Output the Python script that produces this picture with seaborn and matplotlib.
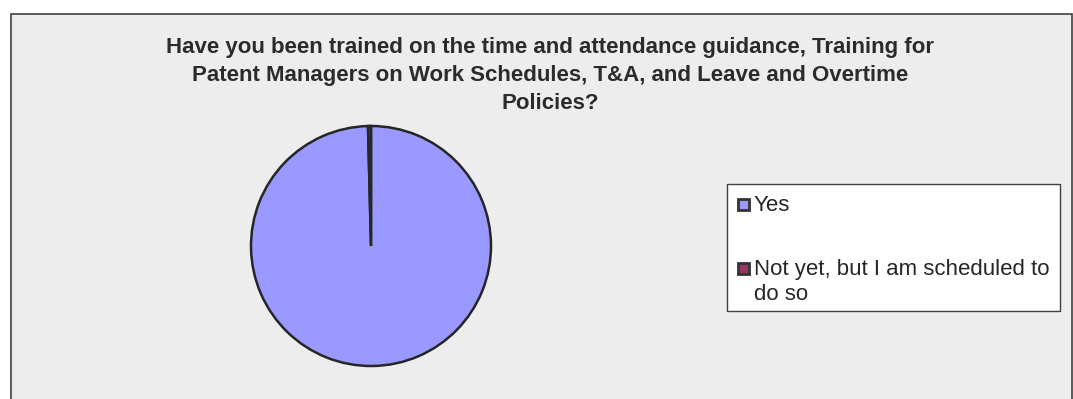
import matplotlib
matplotlib.use("Agg")
import matplotlib.pyplot as plt
from matplotlib.patches import Rectangle
import seaborn as sns

# Survey responses (share of respondents, %)
categories = ["Yes", "Not yet, but I am scheduled to\ndo so"]
values = [99.6, 0.4]
colors = ["#9999FF", "#993366"]
title_lines = ["Have you been trained on the time and attendance guidance, Training for",
               "Patent Managers on Work Schedules, T&A, and Leave and Overtime",
               "Policies?"]

sns.set_theme(style="white")
plt.rcParams["font.family"] = ["Liberation Sans", "DejaVu Sans"]

W, H = 1073, 399
fig = plt.figure(figsize=(W / 100, H / 100), dpi=100, facecolor="white")


def fx(px):
    return px / W


def fy(py):
    return 1 - py / H


# chart area panel
fig.patches.append(Rectangle((fx(11), fy(420)), fx(1072) - fx(11), fy(14) - fy(420),
                             transform=fig.transFigure, facecolor="#EDEDED",
                             edgecolor="#404040", linewidth=1.2, zorder=-2))

for i, line in enumerate(title_lines):
    fig.text(fx(550), fy(53 + 28 * i), line, ha="center", va="baseline",
             fontsize=16, fontweight="bold", color="#2b2b2b")

# pie
cx, cy, r = 371, 246, 120
ax = fig.add_axes([fx(cx - r), fy(cy + r), fx(2 * r), fy(cy - r) - fy(cy + r)])
ax.set_zorder(1)
ax.pie(values, colors=colors, startangle=90, counterclock=False,
       wedgeprops=dict(edgecolor="#262626", linewidth=1.8))
ax.set_xlim(-1, 1)
ax.set_ylim(-1, 1)
ax.set_axis_off()
ax.patch.set_alpha(0)
for w in ax.patches:
    w.set_clip_on(False)

# legend
fig.patches.append(Rectangle((fx(727), fy(311)), fx(1060) - fx(727), fy(184) - fy(311),
                             transform=fig.transFigure, facecolor="white",
                             edgecolor="#404040", linewidth=1.0, zorder=1))
entry_base = [211, 275]
for label, col, yb in zip(categories, colors, entry_base):
    fig.patches.append(Rectangle((fx(737.5), fy(yb - 1)), fx(11.5), fy(0) - fy(11.5),
                                 transform=fig.transFigure, facecolor=col,
                                 edgecolor="#333333", linewidth=2.0, zorder=2))
    for j, part in enumerate(label.split("\n")):
        fig.text(fx(754), fy(yb + 25 * j), part, ha="left", va="baseline",
                 fontsize=16, color="#262626", zorder=3)

fig.savefig("out.png", dpi=100, facecolor="white")
